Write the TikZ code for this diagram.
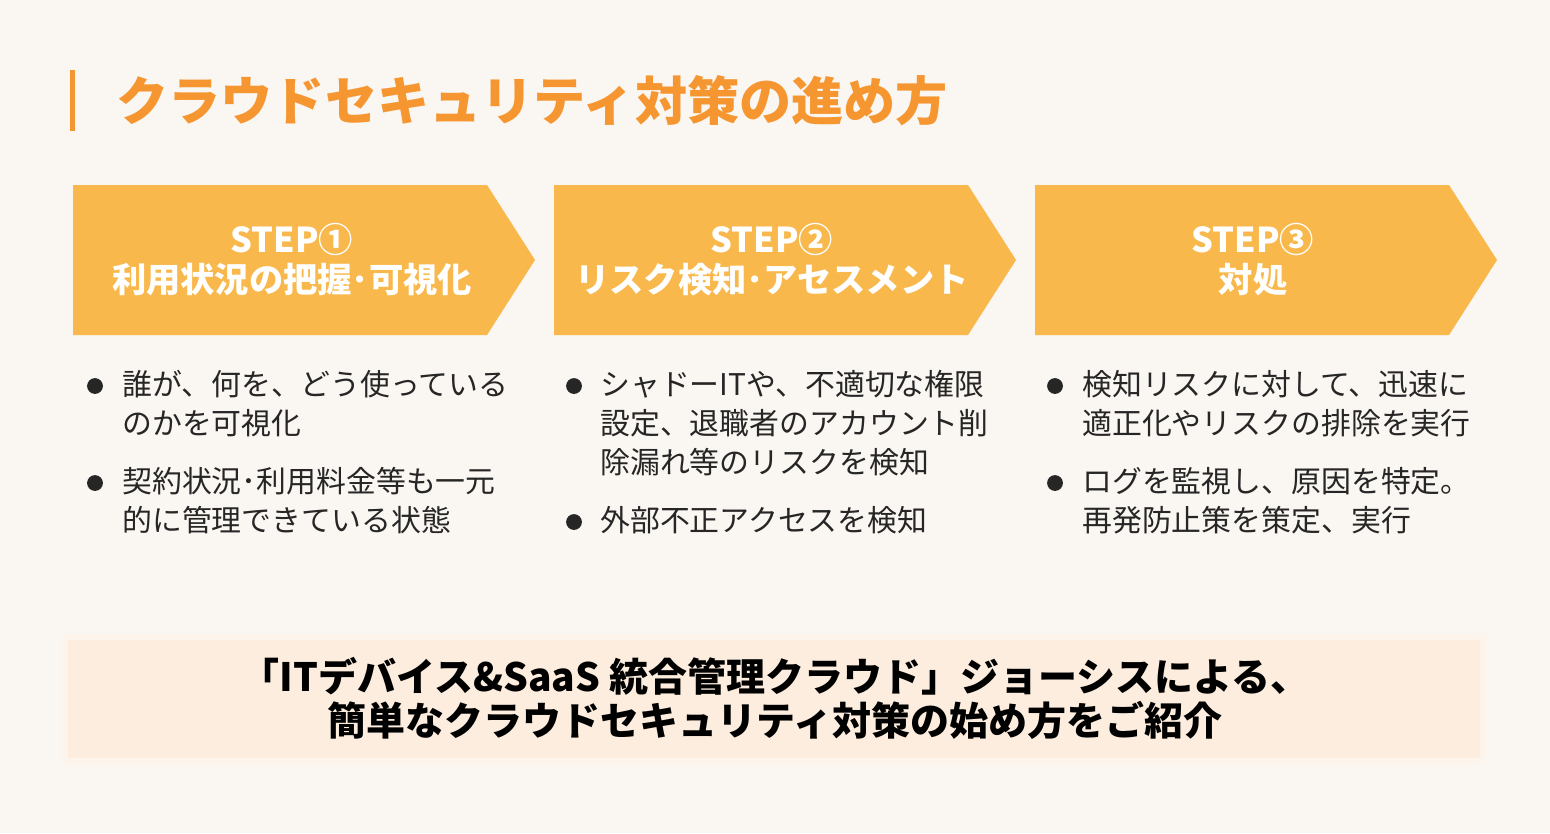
\documentclass[tikz,border=0pt]{standalone}
\usepackage{fontspec}
\setmainfont{Noto Sans CJK JP}
\usepackage{tikz}
\usetikzlibrary{positioning, calc}
\definecolor{bgcream}{RGB}{250, 246, 241}
\definecolor{titleorange}{RGB}{245, 150, 48}
\definecolor{steporange}{RGB}{248, 184, 76}
\definecolor{boxpeach}{RGB}{252, 237, 222}
\definecolor{textgray}{RGB}{38, 38, 38}

\tikzset{
  steptext/.style={align=center, text=white, inner sep=0pt, font=\fontsize{19.5}{22.7}\selectfont\bfseries},
  pointtext/.style={anchor=north west, align=left, inner sep=0pt, text=textgray, font=\fontsize{17}{22.3}\selectfont},
  bulletdot/.style={circle, fill=textgray, inner sep=0pt, minimum size=9}
}

\begin{document}
\begin{tikzpicture}[x=0.02cm, y=-0.02cm]
  % Page background
  \fill[bgcream] (0,0) rectangle (1550,833);
  \useasboundingbox (0,0) rectangle (1550,833);

  % Title with side bar
  \fill[titleorange] (70,70) rectangle (75,131);
  \node[anchor=west, inner sep=0pt, text=titleorange, font=\fontsize{29.7}{29.7}\selectfont\bfseries] (title) at (116,101) {クラウドセキュリティ対策の進め方};

  % Step chevrons
  \fill[steporange] (73,185) -- (487,185) -- (535,260) -- (487,335) -- (73,335) -- cycle;
  \fill[steporange] (554,185) -- (968,185) -- (1016,260) -- (968,335) -- (554,335) -- cycle;
  \fill[steporange] (1035,185) -- (1449,185) -- (1497,260) -- (1449,335) -- (1035,335) -- cycle;
  \node[steptext] (step1) at (292,260) {STEP①\\利用状況の把握･可視化};
  \node[steptext] (step2) at (772,260) {STEP②\\リスク検知･アセスメント};
  \node[steptext] (step3) at (1253,260) {STEP③\\対処};

  % Step 1 points
  \node[bulletdot] (dot11) at (95,386) {};
  \node[pointtext] (pt11) at (122,370) {誰が、何を、どう使っている\\のかを可視化};
  \node[bulletdot] (dot12) at (95,483) {};
  \node[pointtext] (pt12) at (122,467) {契約状況･利用料金等も一元\\的に管理できている状態};

  % Step 2 points
  \node[bulletdot] (dot21) at (574,386) {};
  \node[pointtext] (pt21) at (600,370) {シャドーITや、不適切な権限\\設定、退職者のアカウント削\\除漏れ等のリスクを検知};
  \node[bulletdot] (dot22) at (574,522) {};
  \node[pointtext] (pt22) at (600,506) {外部不正アクセスを検知};

  % Step 3 points
  \node[bulletdot] (dot31) at (1055,386) {};
  \node[pointtext] (pt31) at (1082,370) {検知リスクに対して、迅速に\\適正化やリスクの排除を実行};
  \node[bulletdot] (dot32) at (1055,483) {};
  \node[pointtext] (pt32) at (1082,467) {ログを監視し、原因を特定。\\再発防止策を策定、実行};

  % Closing banner
  \fill[boxpeach!60] (62,634) rectangle (1486,764);
  \fill[boxpeach] (68,640) rectangle (1480,758);
  \node[align=center, inner sep=0pt, text=black, font=\fontsize{22.2}{25}\selectfont\bfseries] (banner) at (775,698) {「ITデバイス\&SaaS 統合管理クラウド」ジョーシスによる、\\簡単なクラウドセキュリティ対策の始め方をご紹介};
\end{tikzpicture}
\end{document}
